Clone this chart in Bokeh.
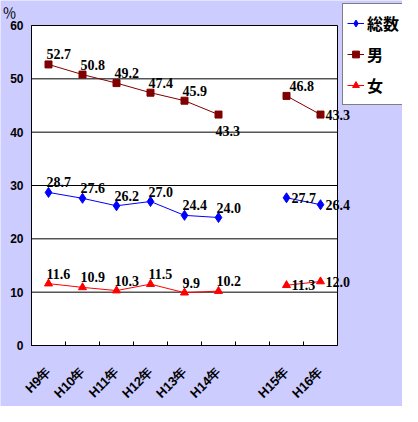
import math
from bokeh.plotting import figure
from bokeh.models import (ColumnDataSource, Range1d, FixedTicker, Legend, LegendItem,
                          LabelSet, Label)
from bokeh.embed import file_html
from bokeh.resources import INLINE

# ---- data ----
categories = ["H9年", "H10年", "H11年", "H12年", "H13年", "H14年", "", "H15年", "H16年"]
total = [28.7, 27.6, 26.2, 27.0, 24.4, 24.0, float("nan"), 27.7, 26.4]
male = [52.7, 50.8, 49.2, 47.4, 45.9, 43.3, float("nan"), 46.8, 43.3]
female = [11.6, 10.9, 10.3, 11.5, 9.9, 10.2, float("nan"), 11.3, 12.0]
series_names = ["総数", "男", "女"]
y_ticks = [0, 10, 20, 30, 40, 50, 60]
unit_text = "％"

# ---- label placement style (per point) ----
pos_total = ["above"] * 6 + [None, "right", "right"]
pos_male = ["above"] * 5 + ["below", None, "aboveright", "right"]
pos_female = ["above"] * 6 + [None, "right", "right"]
OFFS = {"above": (-2, 10), "below": (-3, -16), "right": (5, 0), "aboveright": (3, 10)}

# ---- layout (pixels) ----
BG = "#CCCCFF"
W, H = 402, 406
PL, PR, PT, PB = 31, 337, 25, 345          # plot-area box inside the canvas

n = len(categories)
ymax = y_ticks[-1]
ux = (PR - PL) / n                           # px per category slot
uy = (PB - PT) / ymax                        # px per y unit
x_range = Range1d(-PL / ux, (W - PL) / ux)
y_range = Range1d(-(H - PB) / uy, PB / uy)

p = figure(width=W, height=H, output_backend="svg", toolbar_location=None, title=None,
           x_range=x_range, y_range=y_range, min_border=0)
p.border_fill_color = BG
p.background_fill_color = BG
p.outline_line_color = None
p.grid.visible = False

# plot area box and horizontal grid lines
p.quad(left=[0], right=[n], bottom=[0], top=[ymax], fill_color="white",
       line_color="black", line_width=1)
gy = y_ticks[1:-1]
p.segment(x0=[0] * len(gy), x1=[n] * len(gy), y0=gy, y1=gy, line_color="black", line_width=1)

xs = [i + 0.5 for i in range(n)]

# x axis: labels at slot centres, tick marks at slot boundaries
label_ticks = [xs[i] for i, c in enumerate(categories) if c]
xa = p.xaxis[0]
xa.fixed_location = 0
xa.bounds = (0, n)
xa.ticker = FixedTicker(ticks=label_ticks, minor_ticks=list(range(1, n)))
xa.major_label_overrides = {xs[i]: c for i, c in enumerate(categories) if c}
xa.major_tick_in = 0
xa.major_tick_out = 0
xa.minor_tick_in = 4
xa.minor_tick_out = 0
xa.minor_tick_line_color = "black"
xa.axis_line_color = "black"
xa.major_label_orientation = math.pi / 4
xa.major_label_standoff = 24
xa.major_label_text_font = "Arial"
xa.major_label_text_font_style = "bold"
xa.major_label_text_font_size = "13px"
xa.major_label_text_color = "black"

ya = p.yaxis[0]
ya.fixed_location = 0
ya.bounds = (0, ymax)
ya.ticker = FixedTicker(ticks=y_ticks)
ya.major_tick_in = 0
ya.major_tick_out = 0
ya.minor_tick_line_color = None
ya.axis_line_color = "black"
ya.major_label_standoff = 8
ya.major_label_text_font = "Arial"
ya.major_label_text_font_style = "bold"
ya.major_label_text_font_size = "12px"
ya.major_label_text_color = "black"

specs = [
    (total, "#0000FF", "diamond", 10, pos_total),
    (male, "#800000", "square", 7, pos_male),
    (female, "#FF0000", "triangle", 8, pos_female),
]

items = []
for (vals, color, marker, size, pos), name in zip(specs, series_names):
    src = ColumnDataSource(dict(x=xs, y=vals))
    ln = p.line("x", "y", source=src, line_color=color, line_width=1)
    pts = [(x, v) for x, v in zip(xs, vals) if not math.isnan(v)]
    msrc = ColumnDataSource(dict(x=[a for a, _ in pts], y=[b for _, b in pts]))
    sc = p.scatter("x", "y", source=msrc, marker=marker, size=size,
                   fill_color=color, line_color=color)
    items.append(LegendItem(label=name, renderers=[ln, sc]))
    lx, ly, lt, dx, dy = [], [], [], [], []
    for x, v, ps in zip(xs, vals, pos):
        if ps is None or math.isnan(v):
            continue
        ox, oy = OFFS[ps]
        lx.append(x); ly.append(v); lt.append(f"{v:.1f}")
        dx.append(ox); dy.append(oy)
    lsrc = ColumnDataSource(dict(x=lx, y=ly, t=lt, dx=dx, dy=dy))
    p.add_layout(LabelSet(x="x", y="y", text="t", source=lsrc, x_offset="dx", y_offset="dy",
                          text_align="left", text_baseline="middle",
                          text_font="Arial", text_font_style="bold",
                          text_font_size="14px", text_color="black"))

legend = Legend(items=items, location=(342, H - 105), orientation="vertical",
                background_fill_color="white", background_fill_alpha=1.0,
                border_line_color="black", border_line_width=1,
                label_text_font="Noto Sans CJK JP", label_text_font_style="bold",
                label_text_font_size="16px", label_text_color="black",
                glyph_width=17, glyph_height=30, label_standoff=3,
                padding=4, spacing=1, margin=0)
p.add_layout(legend, "center")

p.add_layout(Label(x=2, y=H - 1, x_units="screen", y_units="screen", text=unit_text,
                   text_font="Noto Sans CJK JP", text_font_size="14px",
                   text_color="black", text_baseline="top"))

open("out.html", "w").write(file_html(p, INLINE))
